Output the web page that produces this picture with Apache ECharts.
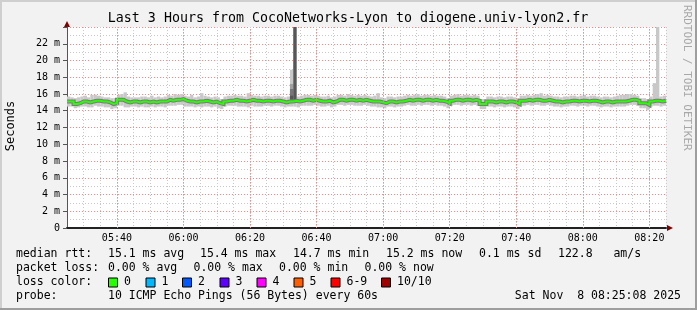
<!DOCTYPE html>
<html>
<head>
<meta charset="utf-8">
<script src="https://cdn.jsdelivr.net/npm/echarts@6/dist/echarts.min.js"></script>
<style>
html,body{margin:0;padding:0;background:#f2f2f2;}
#c{width:697px;height:310px;}
</style>
</head>
<body>
<div id="c"></div>
<script>
// ---------- data ----------
const startMinute = 325;          // 05:25, minutes since midnight
const endMinute = 505;            // 08:25
const timeLabels = ['05:40','06:00','06:20','06:40','07:00','07:20','07:40','08:00','08:20'];
const majorMinutes = [340, 360, 380, 400, 420, 440, 460, 480, 500];
const yUnit = ' m';

// median RTT per minute (ms)
const medianRtt = [
15.1,15.1,14.8,14.9,15.1,15.1,15.0,15.1,15.2,15.2,
15.1,15.1,15.0,14.8,14.9,15.3,15.3,15.1,15.0,15.1,
15.1,15.0,15.1,15.1,15.0,15.1,15.0,15.1,15.1,15.1,
15.3,15.2,15.3,15.3,15.4,15.2,15.1,15.1,15.0,15.1,
15.1,15.2,15.1,15.0,15.1,14.9,14.8,15.1,15.2,15.2,
15.3,15.2,15.2,15.1,15.2,15.3,15.2,15.2,15.1,15.2,
15.2,15.1,15.2,15.2,15.1,15.0,15.1,15.1,15.2,15.1,
15.2,15.3,15.3,15.2,15.3,15.2,15.1,15.1,15.2,15.0,
15.1,15.3,15.3,15.2,15.3,15.3,15.2,15.3,15.2,15.3,
15.2,15.1,15.1,15.1,15.0,14.9,15.1,15.1,15.0,15.1,
15.1,15.2,15.3,15.2,15.3,15.3,15.2,15.3,15.3,15.2,
15.3,15.2,15.2,15.1,14.9,15.2,15.3,15.3,15.2,15.3,
15.3,15.2,15.3,15.2,14.8,14.8,15.1,15.1,15.0,15.1,
15.1,15.0,15.1,15.1,15.0,14.8,15.2,15.2,15.3,15.2,
15.3,15.3,15.2,15.2,15.3,15.2,15.1,15.1,15.0,15.1,
15.1,15.2,15.2,15.1,15.2,15.2,15.1,15.2,15.2,15.1,
15.0,15.1,15.1,15.0,15.1,15.1,15.1,15.1,15.2,15.3,
15.3,15.2,14.9,14.9,14.7,15.1,15.2,15.2,15.1,15.2
];
// highest ping per minute (ms)
const pingMax = [
15.7,15.6,15.5,15.6,15.7,15.8,15.6,15.9,15.9,15.8,
15.7,15.6,15.6,15.5,15.5,15.9,16.0,16.2,15.7,15.6,
15.6,15.6,15.7,15.7,15.6,15.8,15.6,15.7,15.6,15.7,
15.9,15.8,16.0,15.9,16.0,15.8,15.7,15.9,15.6,15.7,
16.1,15.8,15.7,15.6,15.7,15.6,15.4,15.7,15.8,15.8,
15.9,15.8,15.8,15.7,16.1,15.9,15.8,15.8,15.7,15.8,
15.8,15.7,15.8,15.8,15.7,15.6,15.7,18.9,24.5,15.7,
15.8,15.9,15.9,15.8,15.9,15.8,15.7,15.7,15.8,15.6,
15.7,15.9,15.9,15.8,16.0,15.9,15.8,15.9,15.8,15.9,
15.8,15.7,15.8,16.1,15.6,15.5,15.7,15.7,15.6,15.7,
15.7,15.8,15.9,15.8,15.9,16.0,15.8,15.9,15.9,15.8,
15.9,15.8,15.8,15.7,15.5,15.8,15.9,16.0,15.8,15.9,
15.9,15.8,15.9,15.8,15.4,15.4,15.7,15.7,15.6,15.7,
15.7,15.6,15.7,15.7,15.6,15.5,15.8,15.8,15.9,15.8,
15.9,16.0,16.1,15.8,15.9,15.8,15.7,15.7,15.6,15.7,
15.7,15.8,15.8,15.7,15.8,15.9,15.7,15.8,15.8,15.7,
15.6,15.7,15.7,15.6,15.7,15.8,15.9,15.9,16.0,16.0,
15.9,15.8,15.5,15.5,15.4,15.7,17.3,26.0,15.7,15.8
];
// lowest ping per minute (ms)
const pingMin = [
14.5,14.5,14.3,14.4,14.5,14.5,14.4,14.4,14.6,14.5,
14.5,14.4,14.4,14.2,14.3,14.6,14.6,14.4,14.4,14.5,
14.5,14.4,14.5,14.4,14.4,14.5,14.4,14.5,14.5,14.4,
14.6,14.6,14.6,14.7,14.7,14.5,14.5,14.5,14.4,14.5,
14.4,14.5,14.5,14.4,14.5,14.3,14.2,14.5,14.6,14.6,
14.6,14.5,14.5,14.5,14.4,14.6,14.5,14.5,14.5,14.6,
14.6,14.5,14.6,14.6,14.5,14.4,14.5,14.5,14.5,14.4,
14.6,14.6,14.6,14.6,14.7,14.6,14.5,14.5,14.6,14.4,
14.5,14.7,14.7,14.6,14.7,14.7,14.6,14.6,14.6,14.7,
14.6,14.5,14.5,14.4,14.4,14.3,14.5,14.5,14.4,14.5,
14.5,14.6,14.7,14.6,14.6,14.7,14.6,14.7,14.7,14.6,
14.7,14.6,14.6,14.5,14.3,14.6,14.7,14.7,14.6,14.7,
14.7,14.6,14.7,14.6,14.2,14.2,14.5,14.5,14.4,14.5,
14.5,14.4,14.5,14.5,14.4,14.2,14.6,14.6,14.7,14.6,
14.7,14.7,14.6,14.6,14.7,14.6,14.5,14.5,14.4,14.5,
14.5,14.6,14.6,14.5,14.6,14.6,14.5,14.6,14.6,14.5,
14.4,14.5,14.5,14.4,14.5,14.5,14.5,14.5,14.6,14.7,
14.7,14.6,14.3,14.3,14.1,14.5,14.6,14.6,14.5,14.6
];
// denser smoke around the 06:32-06:33 burst (minute index, low, high, density level)
const burstIndex = [67, 67, 67, 68];
const burstLow   = [15.5, 15.4, 15.3, 15.0];
const burstHigh  = [17.2, 16.6, 15.8, 24.5];
const burstLevel = [1, 2, 3, 3];

// legend texts
const rttStats  = ['15.1 ms avg','15.4 ms max','14.7 ms min','15.2 ms now','0.1 ms sd','122.8   am/s'];
const lossStats = ['0.00 % avg','0.00 % max','0.00 % min','0.00 % now'];
const lossLabels = ['0','1','2','3','4','5','6-9','10/10'];
const lossColors = ['#26ff00','#00b8ff','#0059ff','#5e00ff','#ff00ff','#ff5e00','#ff0000','#a10000'];
const probeText = '10 ICMP Echo Pings (56 Bytes) every 60s';
const dateText = 'Sat Nov  8 08:25:08 2025';
const titleText = 'Last 3 Hours from CocoNetworks-Lyon to diogene.univ-lyon2.fr';

// ---------- build ----------
const MONO = "'DejaVu Sans Mono', monospace";
const smokeShades = ['#c8c8c8','#a0a0a0','#767676','#575757'];
const MINOR_GRID = '#c8c8c8';
const MAJOR_GRID = '#f28c8c';

const minutes = medianRtt.map((_, i) => startMinute + i);
const smokeData = minutes.map((m, i) => [m, pingMin[i], pingMax[i], 0]);
const burstData = burstIndex.map((idx, k) => [startMinute + idx, burstLow[k], burstHigh[k], burstLevel[k]]);
const medData = minutes.map((m, i) => [m, medianRtt[i]])
  .concat([[startMinute + medianRtt.length, medianRtt[medianRtt.length - 1]]]);

function smokeSeries(data, z) {
  return {
    type: 'custom', silent: true, clip: true, z: z, animation: false,
    encode: { x: 0, y: [1, 2] },
    data: data,
    renderItem: function (params, api) {
      const t = api.value(0), lo = api.value(1), hi = api.value(2), lvl = api.value(3);
      const p0 = api.coord([t, hi]);
      const p1 = api.coord([t + 1, lo]);
      return {
        type: 'rect',
        shape: { x: p0[0], y: p0[1], width: p1[0] - p0[0], height: p1[1] - p0[1] },
        style: { fill: smokeShades[lvl] }
      };
    }
  };
}

function txt(x, y, text, extra) {
  return Object.assign({
    type: 'text', x: x, y: y, silent: true,
    style: Object.assign({
      text: text, fill: '#000', font: "11.5px " + MONO,
      align: 'left', verticalAlign: 'middle', textAlign: 'left', textVerticalAlign: 'middle'
    }, (extra && extra.style) || {})
  }, extra ? { rotation: extra.rotation || 0 } : {});
}

const graphics = [];
// frame
graphics.push({ type: 'rect', shape: { x: 0, y: 0, width: 697, height: 2 }, style: { fill: '#cfcfcf' }, silent: true });
graphics.push({ type: 'rect', shape: { x: 0, y: 0, width: 2, height: 310 }, style: { fill: '#cfcfcf' }, silent: true });
graphics.push({ type: 'rect', shape: { x: 0, y: 308, width: 697, height: 2 }, style: { fill: '#9e9e9e' }, silent: true });
graphics.push({ type: 'rect', shape: { x: 695, y: 0, width: 2, height: 310 }, style: { fill: '#9e9e9e' }, silent: true });
// title
graphics.push(txt(348, 19, titleText, { style: { font: "13.3px " + MONO, align: 'center', textAlign: 'center' } }));
// y axis name
graphics.push(txt(11, 126, 'Seconds', { rotation: Math.PI / 2, style: { font: "12px " + MONO, align: 'center', textAlign: 'center' } }));
// watermark
graphics.push(txt(687, 5, 'RRDTOOL / TOBI OETIKER', { rotation: -Math.PI / 2, style: { font: "11px " + MONO, fill: '#a8a8a8' } }));
// legend rows
const rowY = [254, 268.5, 282.5, 296.5];
const rttX = [108, 200, 293, 386, 479, 558];
const lossX = [108, 193.5, 279, 364.5];
const boxX = [108.5, 146, 182.5, 220, 257, 294, 331, 381.5];
graphics.push(txt(16, rowY[0], 'median rtt:'));
rttStats.forEach((s, i) => graphics.push(txt(rttX[i], rowY[0], s)));
graphics.push(txt(16, rowY[1], 'packet loss:'));
lossStats.forEach((s, i) => graphics.push(txt(lossX[i], rowY[1], s)));
graphics.push(txt(16, rowY[2], 'loss color:'));
lossLabels.forEach((s, i) => {
  graphics.push({ type: 'rect', silent: true, shape: { x: boxX[i], y: rowY[2] - 4.5, width: 9, height: 9 },
    style: { fill: lossColors[i], stroke: '#000', lineWidth: 1 } });
  graphics.push(txt(boxX[i] + 15.5, rowY[2], s));
});
graphics.push(txt(16, rowY[3], 'probe:'));
graphics.push(txt(108, rowY[3], probeText));
graphics.push(txt(681, rowY[3], dateText, { style: { align: 'right', textAlign: 'right' } }));
// axis arrows
graphics.push({ type: 'polygon', silent: true, shape: { points: [[64, 27], [70, 27], [67, 21]] }, style: { fill: '#800000' } });
graphics.push({ type: 'polygon', silent: true, shape: { points: [[667, 225], [667, 231], [673, 228]] }, style: { fill: '#800000' } });

const option = {
  animation: false,
  backgroundColor: '#f2f2f2',
  grid: { left: 67, right: 31, top: 27, bottom: 82, show: true, backgroundColor: '#ffffff', borderWidth: 0 },
  xAxis: {
    type: 'value', min: startMinute, max: endMinute, interval: 5,
    axisLine: { show: true, lineStyle: { color: '#212121', width: 2 } },
    axisTick: { show: false },
    axisLabel: {
      color: '#000', fontFamily: MONO, fontSize: 10, margin: 5,
      formatter: function (v) {
        const k = majorMinutes.indexOf(v);
        return k >= 0 ? timeLabels[k] : '';
      }
    },
    splitLine: { show: true, lineStyle: { color: MINOR_GRID, type: [1, 2], width: 1 } }
  },
  yAxis: {
    type: 'value', min: 0, max: 24, interval: 2,
    axisLine: { show: true, lineStyle: { color: '#555', width: 1 } },
    axisTick: { show: true, length: 4, lineStyle: { color: '#555' } },
    minorTick: { show: false, splitNumber: 2 },
    axisLabel: {
      color: '#000', fontFamily: MONO, fontSize: 10, margin: 7,
      formatter: function (v) { return v === 24 ? '' : (v === 0 ? '0' : v + yUnit); }
    },
    splitLine: { show: true, lineStyle: { color: MAJOR_GRID, type: [1, 2], width: 1 } },
    minorSplitLine: { show: true, lineStyle: { color: MINOR_GRID, type: [1, 2], width: 1 } }
  },
  series: [
    { type: 'line', data: medData, z: 1, silent: true, symbol: 'none',
      lineStyle: { opacity: 0 },
      markLine: { silent: true, symbol: ['none', 'none'], animation: false, label: { show: false },
        lineStyle: { color: MAJOR_GRID, type: [1, 2], width: 1 },
        data: majorMinutes.map(v => ({ xAxis: v })) } },
    smokeSeries(smokeData, 2),
    smokeSeries(burstData, 3),
    { type: 'line', data: medData, step: 'end', symbol: 'none', z: 4, silent: true,
      lineStyle: { color: '#7a7a7a', width: 4, cap: 'butt', join: 'miter' } },
    { type: 'line', data: medData, step: 'end', symbol: 'none', z: 5, silent: true,
      lineStyle: { color: '#26ff00', width: 2, cap: 'butt', join: 'miter' } }
  ],
  graphic: graphics
};

const chart = echarts.init(document.getElementById('c'), null, { renderer: 'canvas', width: 697, height: 310 });
chart.setOption(option);
</script>
</body>
</html>
